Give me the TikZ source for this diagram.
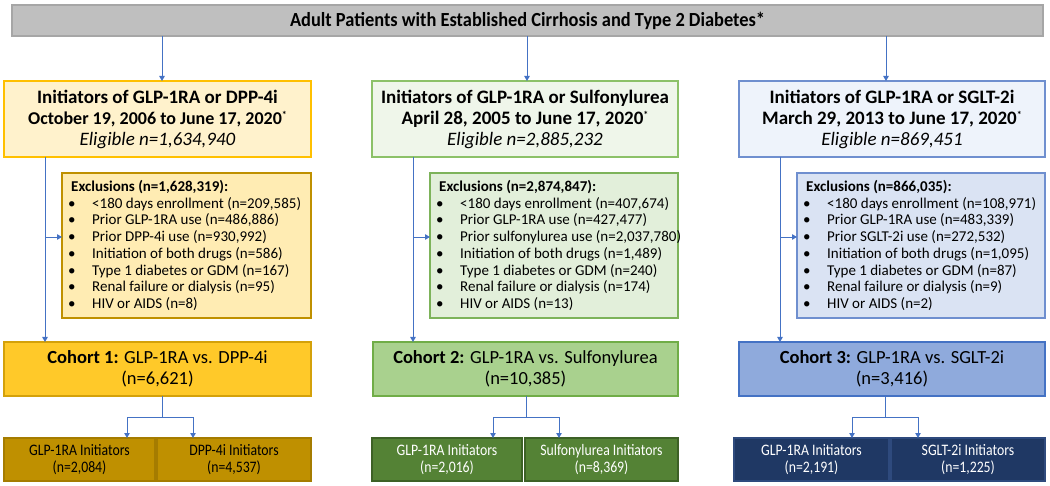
\documentclass[tikz,border=0pt]{standalone}
\usepackage{fontspec}
\setmainfont{Carlito}
\newfontfamily\bannerfont[FakeStretch=0.92]{Carlito}
\newfontfamily\smallcond[FakeStretch=0.86]{Carlito}
\usetikzlibrary{arrows.meta,calc}
\definecolor{cblue}{HTML}{4472C4}
\definecolor{bannerfill}{HTML}{BFBFBF}
\definecolor{bannerdraw}{HTML}{A6A6A6}
\definecolor{yTop}{HTML}{FFF2CC}
\definecolor{yTopD}{HTML}{FFC000}
\definecolor{yEx}{HTML}{FFECB3}
\definecolor{yExD}{HTML}{BF9000}
\definecolor{yCo}{HTML}{FFC929}
\definecolor{yCoD}{HTML}{D4A10A}
\definecolor{yBo}{HTML}{BF9000}
\definecolor{yBoD}{HTML}{A57C00}
\definecolor{gTop}{HTML}{EFF6EA}
\definecolor{gTopD}{HTML}{8CC168}
\definecolor{gEx}{HTML}{E2EFDA}
\definecolor{gExD}{HTML}{7DB35A}
\definecolor{gCo}{HTML}{A9D18E}
\definecolor{gCoD}{HTML}{70AD47}
\definecolor{gBo}{HTML}{548235}
\definecolor{gBoD}{HTML}{3D6126}
\definecolor{bTop}{HTML}{EEF3FB}
\definecolor{bTopD}{HTML}{6F8FCF}
\definecolor{bEx}{HTML}{DAE3F3}
\definecolor{bExD}{HTML}{6F8FCF}
\definecolor{bCo}{HTML}{8FAADC}
\definecolor{bCoD}{HTML}{4472C4}
\definecolor{bBo}{HTML}{1F3864}
\definecolor{bBoD}{HTML}{2E4A7D}
\newcommand\exitem[1]{\makebox[21pt][l]{\hspace*{-3pt}•}#1}
\newcommand\sups{{\fontsize{10}{10}\selectfont\raisebox{6pt}{*}}}
\begin{document}
\begin{tikzpicture}[x=1pt,y=-1pt,
  box/.style={draw, line width=1.2pt, inner sep=0pt, outer sep=0pt, align=center},
  topbox/.style={box, minimum width=#1, minimum height=76pt, font=\fontsize{19}{21}\selectfont},
  exbox/.style={box, minimum width=#1, minimum height=145pt},
  extext/.style={anchor=west, inner sep=0pt, align=left, font=\fontsize{15}{16.7}\selectfont},
  cobox/.style={box, minimum width=#1, minimum height=54pt, font=\fontsize{18.5}{21}\selectfont},
  botbox/.style={box, minimum width=#1, minimum height=43pt, font=\smallcond\fontsize{16}{17}\selectfont},
  conn/.style={draw=cblue, line width=0.9pt},
  arr/.style={conn, -{Triangle[length=5pt,width=5.5pt]}}]
\useasboundingbox (0,0) rectangle (1050,486);

% banner
\node[box, fill=bannerfill, draw=bannerdraw, minimum width=1031pt, minimum height=31pt,
  font=\bannerfont\bfseries\fontsize{20}{22}\selectfont] (banner) at (527.5,20.5)
  {Adult Patients with Established Cirrhosis and Type 2 Diabetes*};

% top boxes
\node[topbox=307pt, fill=yTop, draw=yTopD] (t1) at (157.5,119)
  {\textbf{Initiators of GLP-1RA or DPP-4i}\\{\fontsize{18}{21}\selectfont\textbf{October 19, 2006 to June 17, 2020\sups}}\\\textit{Eligible n=1,634,940}};
\node[topbox=306pt, fill=gTop, draw=gTopD] (t2) at (525,119)
  {\textbf{Initiators of GLP-1RA or Sulfonylurea}\\\textbf{April 28, 2005 to June 17, 2020\sups}\\\textit{Eligible n=2,885,232}};
\node[topbox=306pt, fill=bTop, draw=bTopD] (t3) at (892,119)
  {\textbf{Initiators of GLP-1RA or SGLT-2i}\\\textbf{March 29, 2013 to June 17, 2020\sups}\\\textit{Eligible n=869,451}};

% exclusion boxes
\node[exbox=249pt, fill=yEx, draw=yExD] (e1) at (186.5,245.5) {};
\node[exbox=248pt, fill=gEx, draw=gExD] (e2) at (554,245.5) {};
\node[exbox=248pt, fill=bEx, draw=bExD] (e3) at (921,245.5) {};
\node[extext] (e1t) at ($(e1.west)+(9,0)$)
  {\textbf{Exclusions (n=1,628,319):}\\
   \exitem{<180 days enrollment (n=209,585)}\\
   \exitem{Prior GLP-1RA use (n=486,886)}\\
   \exitem{Prior DPP-4i use (n=930,992)}\\
   \exitem{Initiation of both drugs (n=586)}\\
   \exitem{Type 1 diabetes or GDM (n=167)}\\
   \exitem{Renal failure or dialysis (n=95)}\\
   \exitem{HIV or AIDS (n=8)}};
\node[extext] (e2t) at ($(e2.west)+(9,0)$)
  {\textbf{Exclusions (n=2,874,847):}\\
   \exitem{<180 days enrollment (n=407,674)}\\
   \exitem{Prior GLP-1RA use (n=427,477)}\\
   \exitem{Prior sulfonylurea use (n=2,037,780)}\\
   \exitem{Initiation of both drugs (n=1,489)}\\
   \exitem{Type 1 diabetes or GDM (n=240)}\\
   \exitem{Renal failure or dialysis (n=174)}\\
   \exitem{HIV or AIDS (n=13)}};
\node[extext] (e3t) at ($(e3.west)+(9,0)$)
  {\textbf{Exclusions (n=866,035):}\\
   \exitem{<180 days enrollment (n=108,971)}\\
   \exitem{Prior GLP-1RA use (n=483,339)}\\
   \exitem{Prior SGLT-2i use (n=272,532)}\\
   \exitem{Initiation of both drugs (n=1,095)}\\
   \exitem{Type 1 diabetes or GDM (n=87)}\\
   \exitem{Renal failure or dialysis (n=9)}\\
   \exitem{HIV or AIDS (n=2)}};

% cohort boxes
\node[cobox=307pt, fill=yCo, draw=yCoD] (c1) at (157.5,369)
  {\textbf{Cohort 1:} GLP-1RA vs. DPP-4i\\(n=6,621)};
\node[cobox=305pt, fill=gCo, draw=gCoD] (c2) at (525.5,369)
  {\textbf{Cohort 2:} GLP-1RA vs. Sulfonylurea\\(n=10,385)};
\node[cobox=306pt, fill=bCo, draw=bCoD] (c3) at (892,369)
  {\textbf{Cohort 3:} GLP-1RA vs. SGLT-2i\\(n=3,416)};

% bottom boxes
\node[botbox=151pt, fill=yBo, draw=yBoD] (b1a) at (79.5,459.5) {GLP-1RA Initiators\\(n=2,084)};
\node[botbox=154pt, fill=yBo, draw=yBoD] (b1b) at (234,459.5) {DPP-4i Initiators\\(n=4,537)};
\node[botbox=150pt, fill=gBo, draw=gBoD, text=white] (b2a) at (447,459.5) {GLP-1RA Initiators\\(n=2,016)};
\node[botbox=153pt, fill=gBo, draw=gBoD, text=white] (b2b) at (601.5,459.5) {Sulfonylurea Initiators\\(n=8,369)};
\node[botbox=155pt, fill=bBo, draw=bBoD, text=white] (b3a) at (811.5,459.5) {GLP-1RA Initiators\\(n=2,191)};
\node[botbox=154pt, fill=bBo, draw=bBoD, text=white] (b3b) at (968,459.5) {SGLT-2i Initiators\\(n=1,225)};

% banner to top boxes
\coordinate (a1) at ($(t1.north)+(4.5,0)$);
\coordinate (a2) at ($(t2.north)+(2,0)$);
\coordinate (a3) at ($(t3.north)+(-6,0)$);
\foreach \a in {a1,a2,a3} \draw[arr] (banner.south -| \a) -- (\a);

% flow lines with exclusions
\foreach \i in {1,2,3} {
  \coordinate (v\i) at ($(t\i.south west)+(41,0)$);
  \coordinate (x\i) at ($(e\i.west)+(0,-8.5)$);
  \draw[arr] (v\i) -- (v\i |- c\i.north);
  \draw[arr] (v\i |- x\i) -- (x\i);
}

% branches to bottom boxes
\coordinate (m1) at (162,417);  \coordinate (l1) at (127,417); \coordinate (r1) at (193,417);
\coordinate (m2) at (526,417);  \coordinate (l2) at (493,417); \coordinate (r2) at (559,417);
\coordinate (m3) at (885,417);  \coordinate (l3) at (852,417); \coordinate (r3) at (918,417);
\draw[conn] (c1.south -| m1) -- (m1);
\draw[conn] (c2.south -| m2) -- (m2);
\draw[conn] (c3.south -| m3) -- (m3);
\draw[arr] (m1) -- (l1) -- (l1 |- b1a.north);
\draw[arr] (m1) -- (r1) -- (r1 |- b1b.north);
\draw[arr] (m2) -- (l2) -- (l2 |- b2a.north);
\draw[arr] (m2) -- (r2) -- (r2 |- b2b.north);
\draw[arr] (m3) -- (l3) -- (l3 |- b3a.north);
\draw[arr] (m3) -- (r3) -- (r3 |- b3b.north);
\end{tikzpicture}
\end{document}
